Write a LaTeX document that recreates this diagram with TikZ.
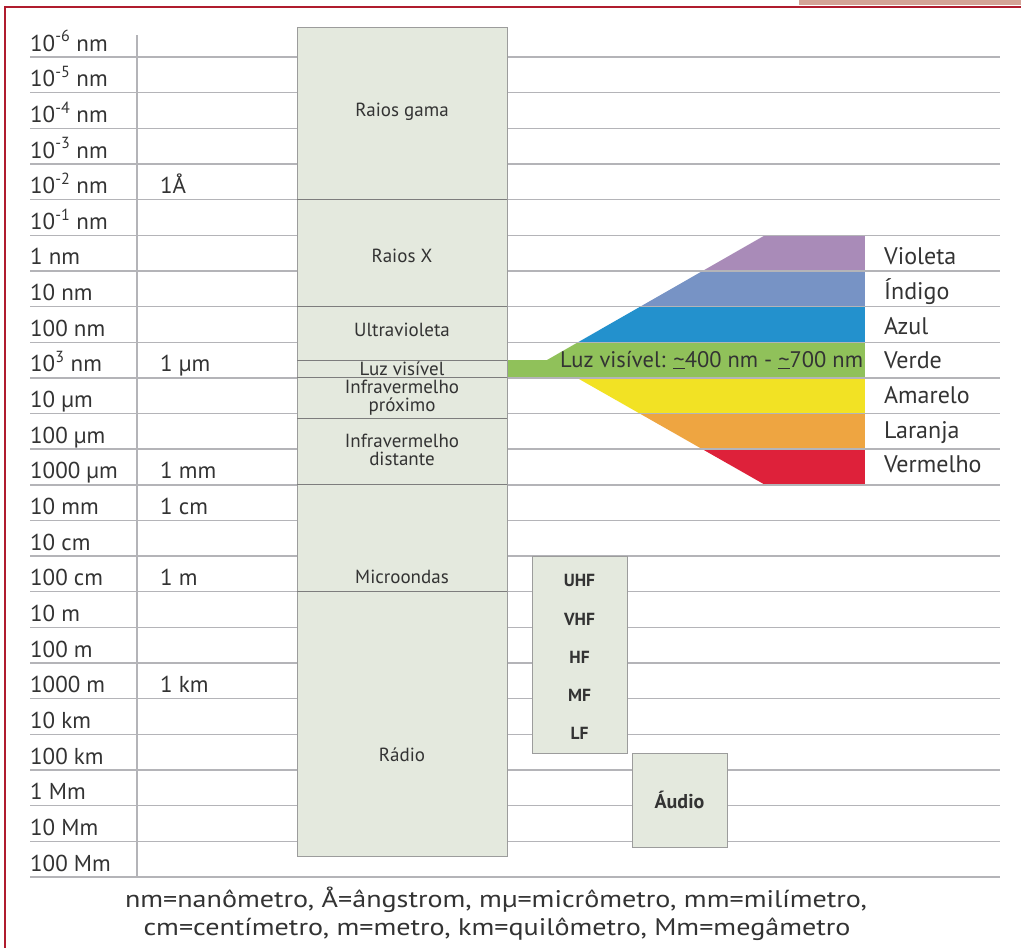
\documentclass[tikz,border=0pt]{standalone}
\usepackage{fontspec}
\setmainfont{PT Sans}
\definecolor{borda}{HTML}{B01C2E}
\definecolor{aba}{HTML}{D4A497}
\definecolor{linha}{HTML}{B4B4B8}
\definecolor{caixafundo}{HTML}{E4E9DE}
\definecolor{caixaborda}{HTML}{9C9C9C}
\definecolor{texto}{HTML}{333333}
\definecolor{violeta}{HTML}{A98BB8}
\definecolor{indigo}{HTML}{7793C5}
\definecolor{azul}{HTML}{2391CD}
\definecolor{verde}{HTML}{90C15A}
\definecolor{amarelo}{HTML}{F2E224}
\definecolor{laranja}{HTML}{EEA541}
\definecolor{vermelho}{HTML}{DE213A}
\begin{document}
\begin{tikzpicture}[x=1pt,y=-1pt,
    grade/.style={draw=linha,line width=1.4pt},
    caixa/.style={fill=caixafundo,draw=caixaborda,line width=1pt},
    divisao/.style={draw=caixaborda!80!black,line width=0.9pt},
    escala/.style={anchor=base west,inner sep=0pt,text=texto,font=\fontsize{23}{27}\selectfont},
    faixa/.style={align=center,inner sep=0pt,text=texto,font=\fontsize{19}{18}\selectfont},
    banda/.style={anchor=base west,inner sep=0pt,text=texto,font=\fontsize{24}{28}\selectfont},
    radio/.style={inner sep=0pt,text=texto,font=\fontsize{17.5}{20}\bfseries\selectfont},
    legenda/.style={anchor=base,inner sep=0pt,text=texto,font=\fontsize{24}{28}\selectfont}]
    \useasboundingbox (0,0) rectangle (1021,948);
    \fill[white] (0,0) rectangle (1021,948);

    % Frame
    \fill[aba] (799,0) rectangle (1021,5);
    \draw[borda,line width=2pt] (1021,7) -- (5,7) -- (5,948);

    % Visible spectrum
    \begin{scope}
        \clip (507,360) -- (547,360) -- (765,235.25) -- (865,235.25) -- (865,484.8)
            -- (765,484.8) -- (577,377.85) -- (507,377.85) -- cycle;
        \fill[violeta] (500,235.25) rectangle (865,270.9);
        \fill[indigo] (500,270.9) rectangle (865,306.55);
        \fill[azul] (500,306.55) rectangle (865,342.2);
        \fill[verde] (500,342.2) rectangle (865,377.85);
        \fill[amarelo] (500,377.85) rectangle (865,413.5);
        \fill[laranja] (500,413.5) rectangle (865,449.15);
        \fill[vermelho] (500,449.15) rectangle (865,484.8);
    \end{scope}

    % Grid
    \foreach \i in {0,...,23}
        \draw[grade] (30,{57+35.65*\i}) -- (1000,{57+35.65*\i});
    \draw[grade,line width=1.1pt] (137,35) -- (137,877);

    % Main bands
    \draw[caixa] (297,27) rectangle (507,856);
    \draw[divisao] (297,199.6) -- (507,199.6);
    \draw[divisao] (297,306.55) -- (507,306.55);
    \draw[divisao] (297,360) -- (507,360);
    \draw[divisao] (297,377.85) -- (507,377.85);
    \draw[divisao] (297,418) -- (507,418);
    \draw[divisao] (297,484.8) -- (507,484.8);
    \draw[divisao] (297,591.75) -- (507,591.75);
    \node[faixa] (gama) at (402,112) {Raios gama};
    \node[faixa] (raiosx) at (402,256) {Raios X};
    \node[faixa] (uv) at (402,330) {Ultravioleta};
    \node[faixa] (luz) at (402,369) {Luz visível};
    \node[faixa] (irprox) at (402,398) {Infravermelho\\próximo};
    \node[faixa] (irdist) at (402,450) {Infravermelho\\distante};
    \node[faixa] (micro) at (402,577) {Microondas};
    \node[faixa] (radio) at (402,755) {Rádio};

    % Radio sub-bands
    \draw[caixa] (532,556) rectangle (627,753);
    \node[radio] (uhf) at (579.5,580) {UHF};
    \node[radio] (vhf) at (579.5,619) {VHF};
    \node[radio] (hf) at (579.5,657) {HF};
    \node[radio] (mf) at (579.5,695) {MF};
    \node[radio] (lf) at (579.5,733) {LF};
    \draw[caixa] (632,753) rectangle (727,847);
    \node[radio,font=\fontsize{20}{22}\bfseries\selectfont] (audio) at (679.5,800) {Áudio};

    % Wavelength scale
    \node[escala] (s0) at (30,51) {10\textsuperscript{-6} nm};
    \node[escala] (s1) at (30,86.7) {10\textsuperscript{-5} nm};
    \node[escala] (s2) at (30,122.3) {10\textsuperscript{-4} nm};
    \node[escala] (s3) at (30,158) {10\textsuperscript{-3} nm};
    \node[escala] (s4) at (30,193.6) {10\textsuperscript{-2} nm};
    \node[escala] (s5) at (30,229.3) {10\textsuperscript{-1} nm};
    \node[escala] (s6) at (30,264.9) {1 nm};
    \node[escala] (s7) at (30,300.6) {10 nm};
    \node[escala] (s8) at (30,336.2) {100 nm};
    \node[escala] (s9) at (30,371.9) {10\textsuperscript{3} nm};
    \node[escala] (s10) at (30,407.5) {10 µm};
    \node[escala] (s11) at (30,443.2) {100 µm};
    \node[escala] (s12) at (30,478.8) {1000 µm};
    \node[escala] (s13) at (30,514.5) {10 mm};
    \node[escala] (s14) at (30,550.1) {10 cm};
    \node[escala] (s15) at (30,585.8) {100 cm};
    \node[escala] (s16) at (30,621.4) {10 m};
    \node[escala] (s17) at (30,657.1) {100 m};
    \node[escala] (s18) at (30,692.7) {1000 m};
    \node[escala] (s19) at (30,728.4) {10 km};
    \node[escala] (s20) at (30,764) {100 km};
    \node[escala] (s21) at (30,799.7) {1 Mm};
    \node[escala] (s22) at (30,835.3) {10 Mm};
    \node[escala] (s23) at (30,871) {100 Mm};

    % Equivalent units
    \node[escala] (angstrom) at (160,193.6) {1Å};
    \node[escala] (um) at (160,371.9) {1 µm};
    \node[escala] (mm) at (160,478.8) {1 mm};
    \node[escala] (cm) at (160,514.5) {1 cm};
    \node[escala] (m) at (160,585.8) {1 m};
    \node[escala] (km) at (160,692.7) {1 km};

    % Colours
    \node[escala,font=\fontsize{22.5}{26}\selectfont] (visivel) at (560,367)
        {Luz visível: \underline{\textasciitilde}400 nm - \underline{\textasciitilde}700 nm};
    \node[banda] (cviol) at (884,264) {Violeta};
    \node[banda] (cind) at (884,299.5) {Índigo};
    \node[banda] (cazul) at (884,334) {Azul};
    \node[banda] (cverde) at (884,368) {Verde};
    \node[banda] (camar) at (884,403) {Amarelo};
    \node[banda] (clar) at (884,438) {Laranja};
    \node[banda] (cverm) at (884,472) {Vermelho};

    % Legend
    \node[legenda] (legenda1) at (496,907)
        {\scalebox{1.17}[1]{nm=nanômetro, Å=ângstrom, mµ=micrômetro, mm=milímetro,}};
    \node[legenda] (legenda2) at (497,935)
        {\scalebox{1.17}[1]{cm=centímetro, m=metro, km=quilômetro, Mm=megâmetro}};
\end{tikzpicture}
\end{document}
